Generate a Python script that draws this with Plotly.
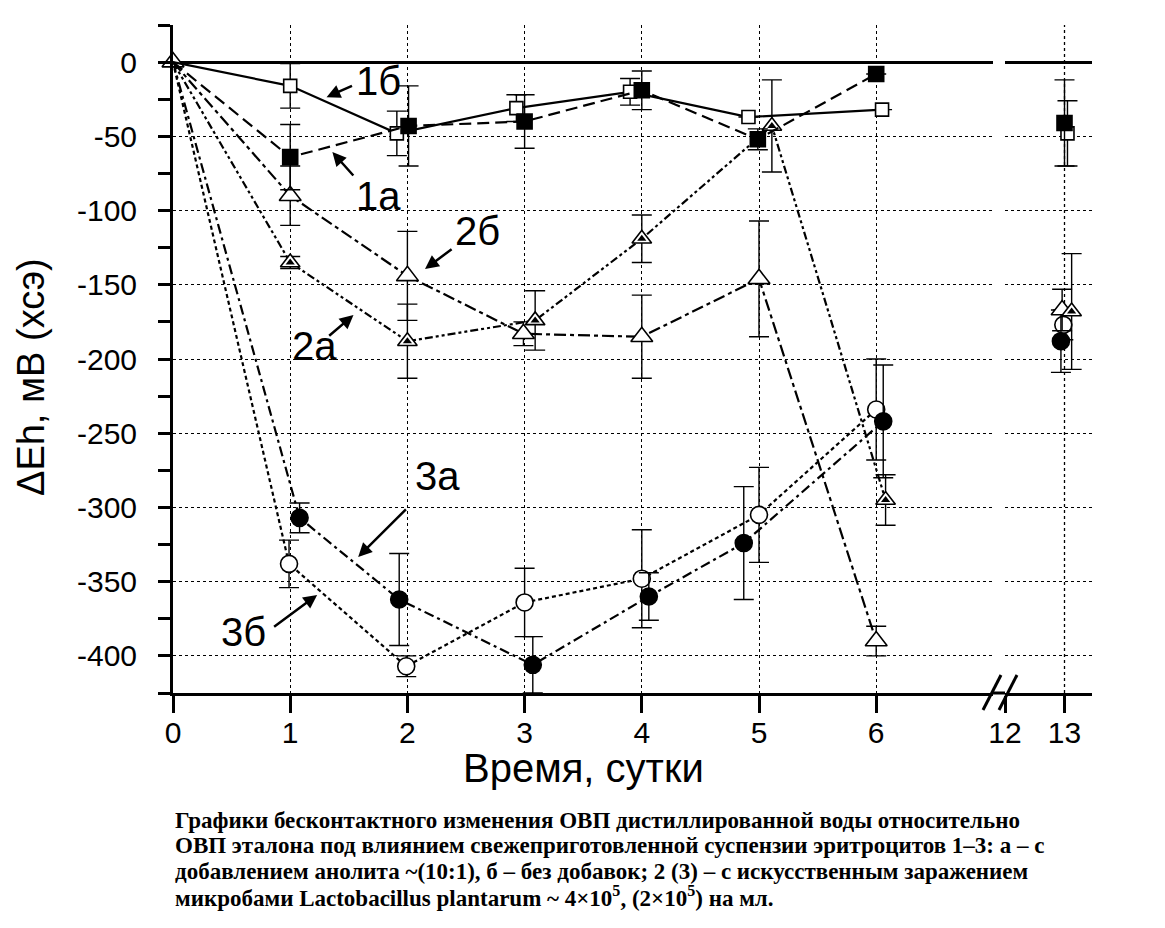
import plotly.graph_objects as go

# ---- data (days, dEh in mV, +/- error) ----
days_1a = [0, 1.0, 2.01, 3.0, 4.0, 4.99, 6.0, 13.0]
dEh_1a = [0, -64, -43, -40, -19, -52, -8, -41]
err_1a = [0, 22, 27, 18, 13, 7, 0, 29]

days_1b = [0, 1.0, 1.91, 2.93, 3.9, 4.91, 6.05, 13.05]
dEh_1b = [0, -16, -48, -31, -20, -37, -32, -48]
err_1b = [0, 15, 15, 9, 9, 0, 0, 22]

days_2a = [0, 1.0, 2.0, 3.09, 4.0, 5.11, 6.08, 13.12]
dEh_2a = [0, -135, -188, -174, -119, -43, -295, -168]
err_2a = [0, 4, 25, 20, 16, 31, 17, 39]

days_2b = [0, 1.0, 2.0, 2.99, 4.0, 5.0, 6.0, 12.96]
dEh_2b = [0, -90, -144, -183, -185, -146, -390, -167]
err_2b = [0, 20, 30, 8, 28, 39, 10, 14]

days_3a = [0, 1.08, 1.93, 3.07, 4.06, 4.87, 6.06, 12.94]
dEh_3a = [0, -307, -362, -406, -360, -324, -242, -188]
err_3a = [0, 10, 31, 19, 16, 38, 38, 21]

days_3b = [0, 0.99, 1.99, 3.0, 4.0, 5.0, 6.0, 12.98]
dEh_3b = [0, -338, -407, -364, -348, -305, -234, -177]
err_3b = [0, 16, 7, 23, 33, 32, 34, 10]

x_ticks_left = [0, 1, 2, 3, 4, 5, 6]
x_ticks_right = [12, 13]
y_ticks = [0, -50, -100, -150, -200, -250, -300, -350, -400]

caption = [
    "Графики бесконтактного изменения ОВП дистиллированной воды относительно",
    "ОВП эталона под влиянием свежеприготовленной суспензии эритроцитов 1–3: а – с",
    "добавлением анолита ~(10:1), б – без добавок; 2 (3) – с искусственным заражением",
    "микробами Lactobacillus plantarum ~ 4×10<sup>5</sup>, (2×10<sup>5</sup>) на мл.",
]

# ---- page geometry (screen pixels; the page body adds an 8px offset) ----
W, H = 1165, 928
OFF = 8
AX_L, AX_R, AX_T, AX_B = 173, 1092, 25, 693   # plot box on screen
L, T = AX_L - OFF, AX_T - OFF
R, B = W - (AX_R - OFF), H - (AX_B - OFF)
PW, PH = AX_R - AX_L, AX_B - AX_T


def px(x):
    return (x - AX_L) / PW


def py(y):
    return (AX_B - y) / PH


BREAK_L, BREAK_R = 993, 1005
SANS = "Liberation Sans"

series = [
    # days, values, errors, dash, marker symbol, fill, size, marker at origin
    (days_3b, dEh_3b, err_3b, "4px,3px", "circle", "white", 17, False),
    (days_3a, dEh_3a, err_3a, "10px,4px,3px,4px", "circle", "black", 17, False),
    (days_2b, dEh_2b, err_2b, "12px,4px,4px,4px", "triangle-up", "white", 19, True),
    (days_2a, dEh_2a, err_2a, "8px,3px,3px,3px,3px,3px", "triangle-up", "white", 17, False),
    (days_1b, dEh_1b, err_1b, "solid", "square", "white", 13, False),
    (days_1a, dEh_1a, err_1a, "12px,6px", "square", "black", 15, False),
]

fig = go.Figure()


def add_markers(xs, ys, es, sym, fill, size, xa, ya, half=False):
    fig.add_trace(go.Scatter(
        x=xs, y=ys, mode="markers", cliponaxis=False,
        marker=dict(symbol=sym, color=fill, size=size, opacity=1,
                    line=dict(color="black", width=1.6)),
        error_y=dict(type="data", array=es, color="black",
                     thickness=1.4, width=10),
        xaxis=xa, yaxis=ya))
    if half:
        # half-filled look: small black triangle inside the open one
        fig.add_trace(go.Scatter(
            x=xs, y=ys, mode="markers", cliponaxis=False,
            marker=dict(symbol="triangle-up", color="black", size=8,
                        line=dict(width=0)),
            xaxis=xa, yaxis=ya))


for days, vals, errs, dash, sym, fill, size, show0 in series:
    left = [i for i, d in enumerate(days) if d <= 7]
    right = [i for i, d in enumerate(days) if d > 7]
    fig.add_trace(go.Scatter(
        x=[days[i] for i in left], y=[vals[i] for i in left],
        mode="lines", line=dict(color="black", width=2.2, dash=dash),
        xaxis="x", yaxis="y"))
    mk = [i for i in left if i > 0 or show0]
    add_markers([days[i] for i in mk], [vals[i] for i in mk],
                [errs[i] for i in mk], sym, fill, size, "x", "y",
                half=days is days_2a)
    add_markers([days[i] for i in right], [vals[i] for i in right],
                [errs[i] for i in right], sym, fill, size, "x2", "y2",
                half=days is days_2a)

axis_common = dict(showline=True, linecolor="black", linewidth=3,
                   ticks="outside", ticklen=17, tickwidth=3, tickcolor="black",
                   tickfont=dict(family=SANS, size=30, color="black"),
                   zeroline=False, ticklabelstandoff=-6, automargin=False)

yaxis_common = dict(range=[-425, 25], zeroline=True, zerolinecolor="black",
                    zerolinewidth=3, showgrid=True, gridcolor="black",
                    gridwidth=1.3, griddash="dot", automargin=False)

fig.update_layout(
    width=W, height=H,
    margin=dict(l=L, r=R, t=T, b=B, autoexpand=False),
    paper_bgcolor="white", plot_bgcolor="white",
    showlegend=False,
    xaxis=dict(domain=[0, px(BREAK_L)], range=[0, (BREAK_L - AX_L) / 117.2],
               tickmode="array", tickvals=x_ticks_left,
               ticktext=[str(v) for v in x_ticks_left],
               showgrid=True, gridcolor="black", gridwidth=1.3, griddash="dot",
               anchor="y", **axis_common),
    xaxis2=dict(domain=[px(BREAK_R), 1], range=[12, 13 + 27.5 / 59.5],
                tickmode="array", tickvals=x_ticks_right,
                ticktext=[str(v) for v in x_ticks_right],
                showgrid=False, anchor="y2", **axis_common),
    yaxis=dict(anchor="x", showline=True, linecolor="black", linewidth=3,
               ticks="outside", ticklen=12, tickwidth=2.5, tickcolor="black",
               tickmode="array", tickvals=y_ticks,
               ticktext=[str(v) + "\u2002" for v in y_ticks],
               tickfont=dict(family=SANS, size=30, color="black"),
               minor=dict(tickmode="array",
                          tickvals=[25] + [v - 25 for v in y_ticks],
                          ticks="outside", ticklen=12, tickwidth=2.5,
                          tickcolor="black", showgrid=False),
               **yaxis_common),
    yaxis2=dict(anchor="x2", matches="y", showline=False, ticks="",
                showticklabels=False, **yaxis_common),
)

shapes = [
    # axis line across the break and the break marks
    dict(type="line", xref="paper", yref="paper", x0=px(BREAK_L), x1=px(BREAK_R),
         y0=0, y1=0, line=dict(color="black", width=3)),
    dict(type="line", xref="paper", yref="paper", x0=px(983), x1=px(1001),
         y0=py(710), y1=py(675), line=dict(color="black", width=3)),
    dict(type="line", xref="paper", yref="paper", x0=px(999), x1=px(1017),
         y0=py(710), y1=py(675), line=dict(color="black", width=3)),
    # vertical grid at day 13
    dict(type="line", xref="x2", yref="paper", x0=13, x1=13, y0=0, y1=1,
         layer="below", line=dict(color="black", width=1.3, dash="dot")),
]
fig.update_layout(shapes=shapes)

label_font = dict(family=SANS, size=40, color="black")
# (text, text x, text y, arrow tail x, tail y, head x, head y) in data units
labels = [
    ("1б", 1.75, -13, 1.54, -15.5, 1.31, -23.6),
    ("1а", 1.75, -90, 1.55, -77.4, 1.36, -60.6),
    ("2б", 2.60, -114, 2.39, -125.3, 2.15, -139.4),
    ("2а", 1.21, -191, 1.32, -185.2, 1.54, -170.4),
    ("3а", 2.26, -279, 2.00, -300.3, 1.58, -333.3),
    ("3б", 0.60, -384, 0.85, -381.1, 1.23, -358.9),
]
ann = []
for txt, tx, ty, ax, ay, hx, hy in labels:
    ann.append(dict(x=tx, y=ty, xref="x", yref="y", text=txt, showarrow=False,
                    font=label_font))
    ann.append(dict(x=hx, y=hy, xref="x", yref="y", ax=ax, ay=ay,
                    axref="x", ayref="y", text="", showarrow=True,
                    arrowhead=2, arrowsize=1.1, arrowwidth=2.5,
                    arrowcolor="black"))

ann.append(dict(x=px((AX_L + BREAK_L) / 2), y=py(768), xref="paper", yref="paper",
                xanchor="center", yanchor="middle",
                text="Время, сутки", showarrow=False,
                font=dict(family=SANS, size=40, color="black")))
ann.append(dict(x=px(31), y=py(377), xref="paper", yref="paper",
                xanchor="center", yanchor="middle",
                text="ΔEh, мВ (хсэ)", textangle=-90, showarrow=False,
                font=dict(family=SANS, size=38, color="black")))

for i, line in enumerate(caption):
    ann.append(dict(x=px(173), y=py(820 + 25.5 * i), xref="paper", yref="paper",
                    xanchor="left", yanchor="middle", align="left",
                    text="<b>" + line + "</b>", showarrow=False,
                    font=dict(family="Liberation Serif", size=23, color="black")))

fig.update_layout(annotations=ann)

fig.write_html("out.html")
